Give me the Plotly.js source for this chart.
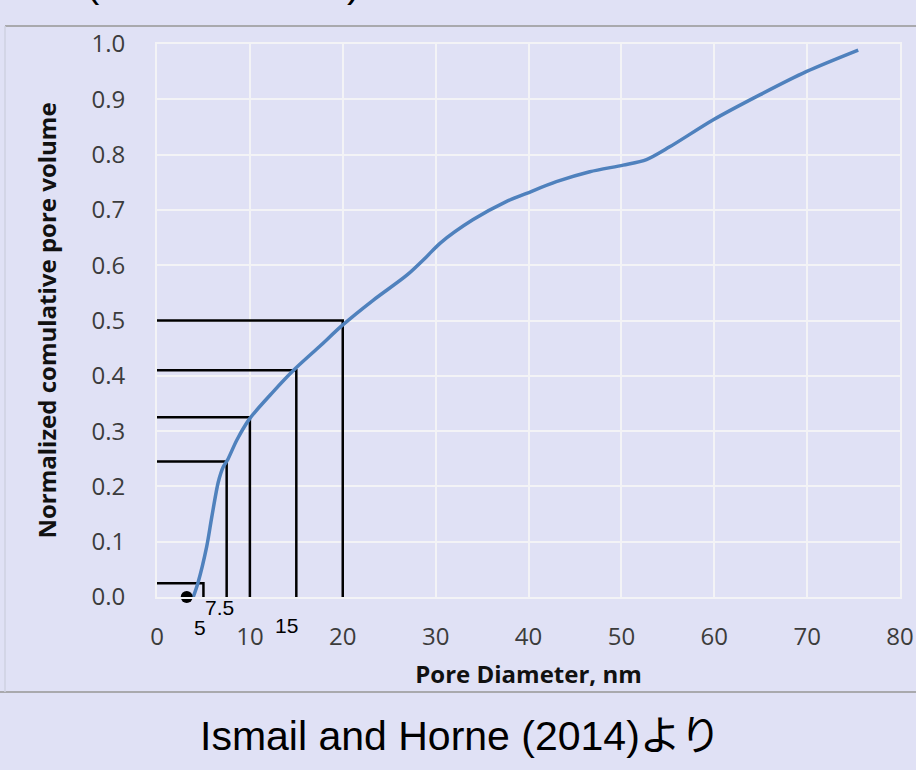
<!DOCTYPE html>
<html>
<head>
<meta charset="utf-8">
<script src="https://cdn.plot.ly/plotly-3.0.1.min.js"></script>
<style>
  html, body { margin: 0; padding: 0; background: #e0e1f5; }
  #chart { width: 916px; height: 770px; }
</style>
</head>
<body>
<div id="chart"></div>
<script>
// Normalized cumulative pore volume vs pore diameter (nm)
const poreDiameter = [3.9, 4.4, 5.35, 5.9, 6.6, 7.15, 7.6, 8.6, 10.0, 12.5, 14.7, 17.5, 20.0, 23.3, 26.9, 29.0, 30.5, 34.0, 37.6, 39.8, 43.0, 46.6, 50.2, 52.7, 55.2, 59.9, 64.9, 69.9, 75.5];
const cumulativeVolume = [0.0, 0.025, 0.091, 0.145, 0.208, 0.236, 0.248, 0.284, 0.323, 0.371, 0.41, 0.453, 0.492, 0.537, 0.582, 0.615, 0.640, 0.682, 0.715, 0.730, 0.751, 0.769, 0.781, 0.791, 0.814, 0.863, 0.908, 0.950, 0.989];

// Reference diameters marked with guide brackets, and the volume read at each
const guideDiameter = [5, 7.5, 10, 15, 20];
const guideVolume = [0.025, 0.245, 0.325, 0.41, 0.5];

// Small value labels next to the guides (10 and 20 are already axis ticks)
const guideLabels = ['5', '7.5', '15'];
const guideLabelX = [5, 7.5, 15];

// Starting point marker
const startX = [3.2];
const startY = [0];

// Axis ticks
const xTicks = [0, 10, 20, 30, 40, 50, 60, 70, 80];
const yTicks = [0, 0.1, 0.2, 0.3, 0.4, 0.5, 0.6, 0.7, 0.8, 0.9, 1.0];

const tickFont = { family: 'Open Sans, sans-serif', size: 24, color: '#3c3c3c' };
const titleFont = { family: 'Open Sans, sans-serif', size: 24, color: '#111111', weight: 700 };

const traces = [];

// Guide brackets: horizontal from the axis to the diameter, then down to zero
guideDiameter.forEach((d, i) => {
  traces.push({
    type: 'scatter', mode: 'lines',
    x: [0, d, d],
    y: [guideVolume[i], guideVolume[i], 0],
    line: { color: '#000000', width: 2.5 },
    hoverinfo: 'skip', showlegend: false
  });
});

traces.push({
  type: 'scatter', mode: 'lines',
  x: poreDiameter, y: cumulativeVolume,
  line: { color: '#4f81bd', width: 3.5, shape: 'spline', smoothing: 0.8 },
  showlegend: false
});

traces.push({
  type: 'scatter', mode: 'markers',
  x: startX, y: startY,
  marker: { color: '#000000', size: 12 },
  cliponaxis: false, showlegend: false
});

// Offsets (px) for the guide value labels
const labelShiftX = [-3, -7, -10];
const labelShiftY = [-30, -10, -28];

const annotations = guideLabels.map((t, i) => ({
  text: t, x: guideLabelX[i], y: 0, xref: 'x', yref: 'y',
  showarrow: false, xshift: labelShiftX[i], yshift: labelShiftY[i],
  font: { family: 'Liberation Sans, Arial, sans-serif', size: 21, color: '#000000' }
}));

// Source caption below the figure frame
annotations.push({
  text: 'Ismail and Horne (2014)より',
  xref: 'paper', yref: 'paper', x: (460 - 157) / 743, y: (597 - 736) / 553,
  xanchor: 'center', yanchor: 'middle', showarrow: false,
  font: { family: 'Liberation Sans, Arial, Noto Sans CJK JP, sans-serif', size: 41, color: '#000000' }
});

// Bottom parts of the heading parentheses at the top edge
[['(', 93], [')', 353]].forEach(([t, px]) => {
  annotations.push({
    text: t, xref: 'paper', yref: 'paper', x: (px - 157) / 743, y: (597 + 17) / 553,
    xanchor: 'center', yanchor: 'middle', showarrow: false,
    font: { family: 'Liberation Sans, Arial, sans-serif', size: 40, color: '#000000' }
  });
});

// Frame lines around the figure
const frameTop = (597 - 26) / 553;
const frameBottom = (597 - 692) / 553;
const frameLeft = (5 - 157) / 743;
const frameRight = (916 - 157) / 743;
const shapes = [
  { type: 'line', xref: 'paper', yref: 'paper', x0: frameLeft, x1: frameRight, y0: frameTop, y1: frameTop, line: { color: '#a9a9ad', width: 2 } },
  { type: 'line', xref: 'paper', yref: 'paper', x0: -0.3, x1: frameRight, y0: frameBottom, y1: frameBottom, line: { color: '#a9a9ad', width: 2 } },
  { type: 'line', xref: 'paper', yref: 'paper', x0: frameLeft, x1: frameLeft, y0: frameTop, y1: frameBottom, line: { color: '#cfd0e0', width: 1.5 } }
];

const layout = {
  width: 916, height: 770,
  margin: { l: 157, r: 16, t: 44, b: 173, pad: 0 },
  paper_bgcolor: '#e0e1f5',
  plot_bgcolor: '#e0e1f5',
  showlegend: false,
  xaxis: {
    range: [0, 80], tickvals: xTicks, ticktext: xTicks.map(String),
    showgrid: true, gridcolor: '#f3f3f6', gridwidth: 2,
    zeroline: false, showline: true, mirror: true, linecolor: '#f3f3f6', linewidth: 2,
    ticks: 'outside', ticklen: 17, tickcolor: 'rgba(0,0,0,0)',
    tickfont: tickFont,
    title: { text: 'Pore Diameter, nm', font: titleFont, standoff: 15 }
  },
  yaxis: {
    range: [0, 1], tickvals: yTicks, ticktext: yTicks.map(v => v.toFixed(1)),
    showgrid: true, gridcolor: '#f3f3f6', gridwidth: 2,
    zeroline: false, showline: true, mirror: true, linecolor: '#f3f3f6', linewidth: 2,
    ticks: 'outside', ticklen: 25, tickcolor: 'rgba(0,0,0,0)',
    tickfont: tickFont,
    title: { text: 'Normalized comulative pore volume', font: titleFont, standoff: 28 }
  },
  annotations: annotations,
  shapes: shapes
};

Plotly.newPlot('chart', traces, layout, { staticPlot: true, displayModeBar: false });
</script>
</body>
</html>
